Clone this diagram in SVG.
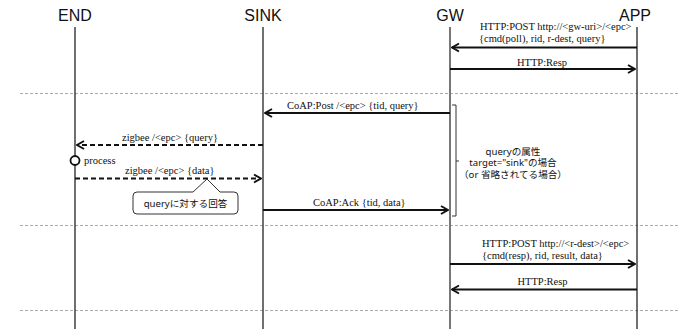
<svg xmlns="http://www.w3.org/2000/svg" width="679" height="329" viewBox="0 0 679 329">
<style>
.title{font-family:"Liberation Sans",Arial,sans-serif;font-size:16px;fill:#111;text-anchor:middle}
.lbl{font-family:"Liberation Serif","Times New Roman",serif;font-size:10.5px;fill:#111}
.jp{font-family:"Noto Sans","Noto Sans CJK JP",sans-serif;font-size:9.6px;fill:#111;text-anchor:middle}
.life{stroke:#222;stroke-width:1.3;fill:none}
.sep{stroke:#aaa;stroke-width:1;stroke-dasharray:3 2;fill:none}
.msg{stroke:#111;stroke-width:2;fill:none;marker-end:url(#arr)}
.dash{stroke-dasharray:5 3}
</style>
<defs>
<marker id="arr" viewBox="-9 -6 10 12" refX="0" refY="0" markerWidth="10" markerHeight="12" markerUnits="userSpaceOnUse" orient="auto">
<path d="M-7,-4 L0,0 L-7,4" fill="none" stroke="#111" stroke-width="2"/>
</marker>
</defs>
<rect width="679" height="329" fill="#fff"/>
<g id="separators">
<line class="sep" x1="20" y1="93.5" x2="679" y2="93.5"/>
<line class="sep" x1="20" y1="225.5" x2="679" y2="225.5"/>
<line class="sep" x1="20" y1="310.5" x2="679" y2="310.5"/>
</g>
<g id="END"><text class="title" x="75" y="21">END</text><line class="life" x1="75" y1="27" x2="75" y2="329"/></g>
<g id="SINK"><text class="title" x="263" y="21">SINK</text><line class="life" x1="263" y1="27" x2="263" y2="329"/></g>
<g id="GW"><text class="title" x="450" y="21">GW</text><line x1="450" y1="27" x2="450" y2="329" stroke="#777" stroke-width="2"/></g>
<g id="APP"><text class="title" x="635" y="21">APP</text><line class="life" x1="637" y1="27" x2="637" y2="329"/></g>
<g id="connectors">
<line class="msg" x1="637" y1="47.5" x2="452" y2="47.5"/>
<text class="lbl" x="480" y="29.5">HTTP:POST http://&lt;gw-uri&gt;/&lt;epc&gt;</text>
<text class="lbl" x="479" y="42">{cmd(poll), rid, r-dest, query}</text>
<line class="msg" x1="450" y1="69" x2="635" y2="69"/>
<text class="lbl" x="542" y="66" text-anchor="middle">HTTP:Resp</text>
<line class="msg" x1="450" y1="113" x2="265" y2="113"/>
<text class="lbl" x="287" y="108.5">CoAP:Post /&lt;epc&gt; {tid, query}</text>
<line class="msg dash" x1="263" y1="145" x2="77" y2="145"/>
<text class="lbl" x="122" y="141">zigbee /&lt;epc&gt; {query}</text>
<line class="msg dash" x1="75" y1="178.5" x2="261" y2="178.5"/>
<text class="lbl" x="125" y="174">zigbee /&lt;epc&gt; {data}</text>
<line class="msg" x1="263" y1="210" x2="448" y2="210"/>
<text class="lbl" x="313" y="206">CoAP:Ack {tid, data}</text>
<line class="msg" x1="450" y1="264" x2="635" y2="264"/>
<text class="lbl" x="482" y="246.5">HTTP:POST http://&lt;r-dest&gt;/&lt;epc&gt;</text>
<text class="lbl" x="482" y="259">{cmd(resp), rid, result, data}</text>
<line class="msg" x1="637" y1="289.5" x2="452" y2="289.5"/>
<text class="lbl" x="542.5" y="284.5" text-anchor="middle">HTTP:Resp</text>
</g>
<g id="process">
<circle cx="75" cy="160.5" r="4.5" fill="#fff" stroke="#111" stroke-width="1.8"/>
<text class="lbl" x="84" y="164">process</text>
</g>
<g id="callout">
<path d="M137,192 H193 L207,179 L220,192 H234 Q238,192 238,196 V210 Q238,214 234,214 H137 Q133,214 133,210 V196 Q133,192 137,192 Z" fill="#fff" stroke="#333" stroke-width="1"/>
<text class="jp" x="185.5" y="207">queryに対する回答</text>
</g>
<g id="bracket">
<path d="M452,105 H456 V216 H452 M456,161 H459" fill="none" stroke="#333" stroke-width="1"/>
<text class="jp" x="513" y="154.5">queryの属性</text>
<text class="jp" x="513" y="166">target="sink"の場合</text>
<text class="jp" x="513" y="177.5">（or 省略されてる場合）</text>
</g>
</svg>
